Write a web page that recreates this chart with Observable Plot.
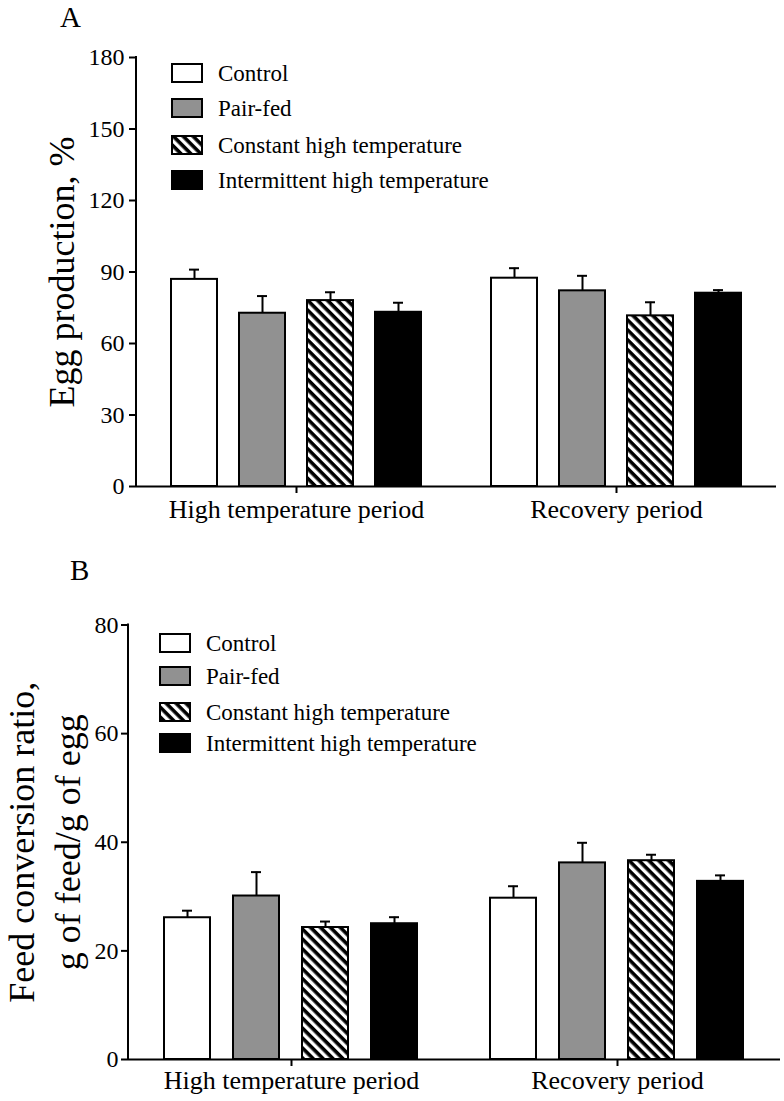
<!DOCTYPE html>
<html><head><meta charset="utf-8">
<script src="https://cdn.jsdelivr.net/npm/d3@7"></script>
<script src="https://cdn.jsdelivr.net/npm/@observablehq/plot@0.6"></script>
<style>
html,body{margin:0;padding:0;background:#fff;}
#root{position:relative;width:784px;height:1101px;overflow:hidden;font-family:"Liberation Serif","Times New Roman",serif;}
#root > svg{display:block}
.overlay{position:absolute;left:0;top:0;pointer-events:none}
</style></head><body>
<div id="root"></div>
<script>
// ---------- data ----------
const periods = ["High temperature period", "Recovery period"];
const groups = ["Control", "Pair-fed", "Constant high temperature", "Intermittent high temperature"];
const groupFills = ["#ffffff", "#919191", "url(#hatch)", "#000000"];

const eggHigh = [86.9, 72.7, 78.0, 73.1];
const eggHighSE = [4.1, 7.2, 3.5, 4.0];
const eggRecovery = [87.4, 82.1, 71.6, 81.1];
const eggRecoverySE = [4.2, 6.3, 5.7, 1.3];

const fcrHigh = [26.1, 30.1, 24.3, 25.0];
const fcrHighSE = [1.3, 4.4, 1.1, 1.2];
const fcrRecovery = [29.7, 36.2, 36.6, 32.8];
const fcrRecoverySE = [2.2, 3.7, 1.1, 1.1];

const eggTicks = [0, 30, 60, 90, 120, 150, 180];
const fcrTicks = [0, 20, 40, 60, 80];

const eggTitle = "Egg production, %";
const fcrTitle = "Feed conversion ratio,\ng of feed/g of egg";
const panelLabels = ["A", "B"];

// ---------- helpers ----------
const FONT = "'Liberation Serif','Times New Roman',serif";
function table(meansByPeriod, sesByPeriod) {
  return periods.flatMap((p, i) => groups.map((g, j) => ({
    period: p, group: g, mean: meansByPeriod[i][j], se: sesByPeriod[i][j]
  })));
}

function panel(o) {
  const data = o.data;
  const chart = Plot.plot({
    width: 784, height: o.height,
    marginLeft: o.marginLeft, marginRight: o.marginRight,
    marginTop: o.marginTop, marginBottom: o.marginBottom,
    style: {fontFamily: FONT, background: "white", color: "black", overflow: "visible"},
    fx: {domain: periods, padding: 0, label: null},
    x: {domain: groups, paddingInner: o.padInner, paddingOuter: o.padOuter, axis: null},
    y: {domain: [0, d3.max(o.ticks)], label: null},
    color: {domain: groups, range: groupFills},
    marks: [
      Plot.ruleX(data, {fx: "period", x: "group", y1: "mean", y2: d => d.mean + d.se, stroke: "black", strokeWidth: 2}),
      Plot.tickY(data, {fx: "period", x: "group", y: d => d.mean + d.se, stroke: "black", strokeWidth: 2, insetLeft: 18, insetRight: 18}),
      Plot.barY(data, {fx: "period", x: "group", y: "mean", fill: "group", stroke: "black", strokeWidth: 2}),
      Plot.ruleY([0], {stroke: "black", strokeWidth: 2}),
      Plot.axisY({ticks: o.ticks, tickSize: 7, tickPadding: o.yTickPadding, fontSize: 24, label: null, strokeWidth: 2, tickFormat: d => String(d)}),
      Plot.axisFx({anchor: "bottom", tickSize: 7, tickPadding: o.xTickPadding, fontSize: 26, label: null, strokeWidth: 2}),
      Plot.text([o.title], {frameAnchor: "left", rotate: -90, dx: o.titleDx, fontSize: 36, lineHeight: o.titleLH,
        textAnchor: "middle", lineAnchor: "middle", fill: "black", facetAnchor: "left"})
    ]
  });
  // y axis domain line, positioned with the plot's own y scale
  const ys = chart.scale("y");
  d3.select(chart).append("line")
    .attr("x1", o.marginLeft).attr("x2", o.marginLeft)
    .attr("y1", ys.apply(d3.max(o.ticks)) - 1).attr("y2", ys.apply(0) + 1)
    .attr("stroke", "black").attr("stroke-width", 2);
  return chart;
}

const root = document.getElementById("root");

root.appendChild(panel({
  data: table([eggHigh, eggRecovery], [eggHighSE, eggRecoverySE]),
  ticks: eggTicks, title: eggTitle,
  height: 545, marginLeft: 136, marginRight: 8, marginTop: 57, marginBottom: 59,
  padInner: 0.32, padOuter: 0.48, yTickPadding: 5, xTickPadding: 6, titleDx: -76, titleLH: 1.2
}));

root.appendChild(panel({
  data: table([fcrHigh, fcrRecovery], [fcrHighSE, fcrRecoverySE]),
  ticks: fcrTicks, title: fcrTitle,
  height: 556, marginLeft: 128, marginRight: 4, marginTop: 79.5, marginBottom: 42,
  padInner: 0.33, padOuter: 0.5, yTickPadding: 3, xTickPadding: 4, titleDx: -86, titleLH: 1.28
}));

// ---------- overlay: pattern, legends, panel letters ----------
const ov = d3.select(root).append("svg").attr("class", "overlay")
  .attr("width", 784).attr("height", 1101);
const pat = ov.append("defs").append("pattern").attr("id", "hatch")
  .attr("patternUnits", "userSpaceOnUse").attr("width", 7).attr("height", 7)
  .attr("patternTransform", "rotate(45)");
pat.append("rect").attr("width", 7).attr("height", 7).attr("fill", "white");
pat.append("rect").attr("width", 7).attr("height", 3.6).attr("fill", "black");

const legendLayouts = [
  {x: 172, textX: 218, rows: [73, 108, 145, 180]},
  {x: 160, textX: 206, rows: [643, 676, 712, 743]}
];
legendLayouts.forEach(L => {
  const g = ov.append("g");
  groups.forEach((name, i) => {
    g.append("rect").attr("x", L.x).attr("y", L.rows[i] - 9).attr("width", 30).attr("height", 18)
      .attr("fill", groupFills[i]).attr("stroke", "black").attr("stroke-width", 2);
    g.append("text").attr("x", L.textX).attr("y", L.rows[i]).attr("dy", "0.35em")
      .attr("font-family", FONT).attr("font-size", 23).attr("fill", "black").text(name);
  });
});

const letterPos = [{x: 60, y: 27}, {x: 70, y: 580}];
panelLabels.forEach((t, i) => {
  ov.append("text").attr("x", letterPos[i].x).attr("y", letterPos[i].y)
    .attr("font-family", FONT).attr("font-size", 29).attr("fill", "black").text(t);
});
</script>
</body></html>
